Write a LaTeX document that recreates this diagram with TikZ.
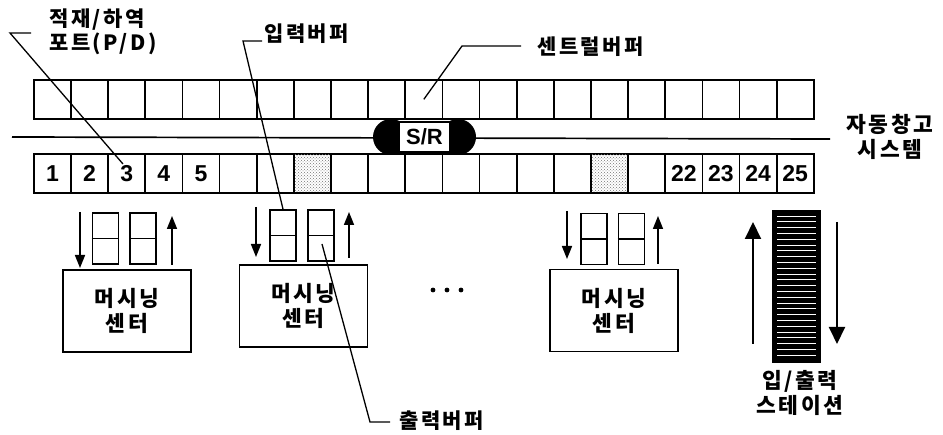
\documentclass[tikz,border=0pt]{standalone}
\usepackage{fontspec}
\setmainfont{Liberation Sans}
\newfontfamily\kr[LetterSpace=12]{Noto Sans CJK KR}
\usetikzlibrary{arrows.meta,patterns}
\begin{document}
\begin{tikzpicture}[x=1pt,y=-1pt,
  cell/.style={draw,line width=1.7pt,minimum width=37.14pt,minimum height=39pt,inner sep=0pt,anchor=north west,font=\bfseries\fontsize{23}{23}\selectfont},
  lbl/.style={font=\kr\bfseries\fontsize{21}{24}\selectfont,inner sep=0pt,align=left},
  clbl/.style={font=\kr\bfseries\fontsize{21.5}{25}\selectfont,inner sep=0pt,align=center},
  mc/.style={draw,line width=1.7pt,minimum width=128pt,minimum height=82pt,inner sep=0pt,align=center,font=\kr\bfseries\fontsize{21.5}{25}\selectfont},
  buf/.style={draw,line width=1.7pt,minimum width=26pt,minimum height=51pt,inner sep=0pt},
  arr/.style={line width=1.7pt,-{Triangle[length=13pt,width=10pt]}},
  bigarr/.style={line width=2pt,-{Triangle[length=17pt,width=16pt]}},
  leader/.style={line width=1.3pt},
  dotfill/.style={pattern=crosshatch dots,pattern color=black!55}
]
\useasboundingbox (0,0) rectangle (943,435);

% central buffer (top row)
\foreach \i in {0,...,20}{
  \node[cell] (t\i) at ({33+\i*37.14},79) {};
}
% bottom row (P/D ports)
\foreach \i in {0,...,20}{
  \pgfmathtruncatemacro\n{\i<5 ? \i+1 : (\i>16 ? \i+5 : 0)}
  \node[cell] (b\i) at ({33+\i*37.14},153) {\ifnum\n>0 \n\fi};
}
\path[dotfill] ([shift={(2,2)}]b7.north west) rectangle ([shift={(-2,-2)}]b7.south east);
\path[dotfill] ([shift={(2,2)}]b15.north west) rectangle ([shift={(-2,-2)}]b15.south east);

% track
\coordinate (trL) at (12,137);
\coordinate (trR) at (830,139);
\draw[line width=1.7pt] (trL) -- (trR);

% S/R machine
\node[circle,fill=black,minimum size=36pt,inner sep=0pt] (srl) at (391,137) {};
\node[circle,fill=black,minimum size=36pt,inner sep=0pt] (srr) at (458,137) {};
\node[draw,fill=white,line width=1.2pt,minimum width=50pt,minimum height=30pt,inner sep=0pt,font=\bfseries\fontsize{22}{22}\selectfont] (sr) at (424.5,137) {S/R};

% machining centers
\node[mc] (m1) at (127,311) {머시닝\\센터};
\node[mc] (m2) at (303.5,306) {머시닝\\센터};
\node[mc] (m4) at (614,310.5) {머시닝\\센터};

% buffers
\foreach \n/\x/\y in {i1/105.5/238.5, o1/143/238.5, i2/283/235.5, o2/321/235.5, i4/594/239, o4/631.5/239}{
  \node[buf] (\n) at (\x,\y) {};
  \draw[line width=1.7pt] (\n.west) -- (\n.east);
}

% arrows at machining centers
\coordinate (a1s) at (80,212);  \coordinate (a1e) at (80,268);
\coordinate (u1s) at (172,265); \coordinate (u1e) at (172,216);
\coordinate (a2s) at (256,207); \coordinate (a2e) at (256,257);
\coordinate (u2s) at (349,258); \coordinate (u2e) at (349,212);
\coordinate (a4s) at (567,211); \coordinate (a4e) at (567,259);
\coordinate (u4s) at (658,264); \coordinate (u4e) at (658,216);
\draw[arr] (a1s) -- (a1e);
\draw[arr] (u1s) -- (u1e);
\draw[arr] (a2s) -- (a2e);
\draw[arr] (u2s) -- (u2e);
\draw[arr] (a4s) -- (a4e);
\draw[arr] (u4s) -- (u4e);

% dots
\fill (433,290) circle (2.4);
\fill (447,290) circle (2.4);
\fill (461,290) circle (2.4);

% I/O station
\node[draw,fill=black,line width=2.5pt,minimum width=46pt,minimum height=150pt,inner sep=0pt] (io) at (796.5,286.5) {};
\foreach \k in {0,...,24}{
  \draw[white,line width=0.9pt] (777,{216+\k*5.8}) -- (816,{216+\k*5.8});
}
\coordinate (ius) at (753,344); \coordinate (iue) at (753,222);
\coordinate (ids) at (837,222); \coordinate (ide) at (837,344);
\draw[bigarr] (ius) -- (iue);
\draw[bigarr] (ids) -- (ide);

% labels
\node[lbl,anchor=west] (pd) at (49,32) {적재/하역\\포트(P/D)};
\node[lbl,anchor=west] (ib) at (264,34) {입력버퍼};
\node[lbl,anchor=west] (cb) at (537,47) {센트럴버퍼};
\node[clbl] (asrs) at (890,137) {자동창고\\시스템};
\node[lbl,anchor=west] (ob) at (399,421) {출력버퍼};
\node[clbl] (iol) at (800,393) {입/출력\\스테이션};

% leaders
\coordinate (pdA) at (31,33); \coordinate (pdB) at (10,33); \coordinate (pdE) at (123,164);
\draw[leader] (pdA) -- (pdB) -- (pdE);
\coordinate (ibA) at (262,41); \coordinate (ibB) at (243,41);
\draw[leader] (ibA) -- (ibB) -- (i2.north);
\coordinate (cbA) at (521,46); \coordinate (cbB) at (462,46);
\draw[leader] (cbA) -- (cbB) -- (t10.center);
\coordinate (obS) at (322,244); \coordinate (obB) at (370,422); \coordinate (obA) at (390,422);
\draw[leader] (obS) -- (obB) -- (obA);
\end{tikzpicture}
\end{document}
